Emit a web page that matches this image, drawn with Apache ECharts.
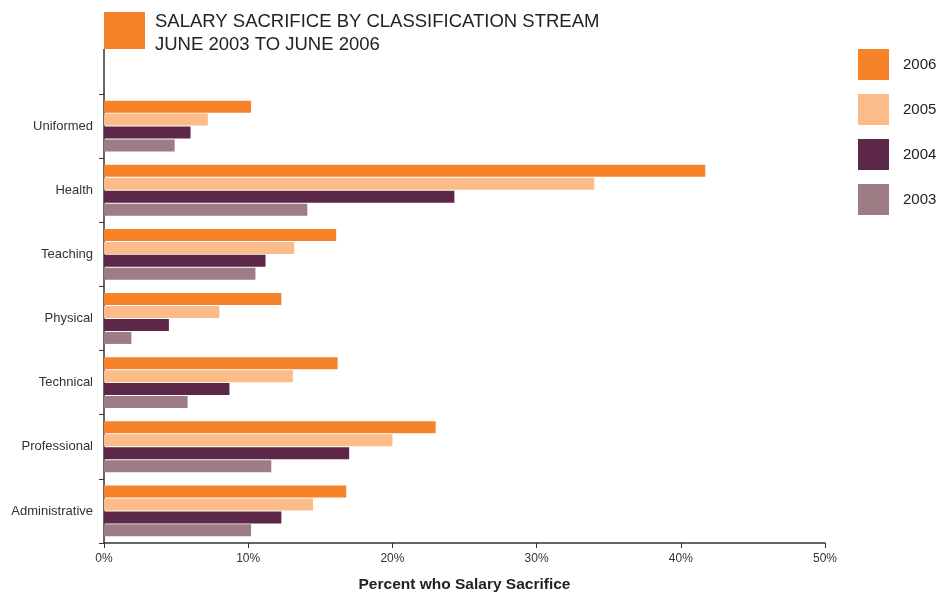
<!DOCTYPE html>
<html>
<head>
<meta charset="utf-8">
<script src="https://cdn.jsdelivr.net/npm/echarts@6/dist/echarts.min.js"></script>
<style>
  html, body { margin: 0; padding: 0; background: #fff; }
  #chart { width: 939px; height: 592px; }
</style>
</head>
<body>
<div id="chart"></div>
<script>
// Classification streams, listed bottom to top
const categories = ['Administrative', 'Professional', 'Technical', 'Physical', 'Teaching', 'Health', 'Uniformed'];

// Percent of staff who salary sacrifice, by year (same order as categories)
const values2006 = [16.8, 23.0, 16.2, 12.3, 16.1, 41.7, 10.2];
const values2005 = [14.5, 20.0, 13.1, 8.0, 13.2, 34.0, 7.2];
const values2004 = [12.3, 17.0, 8.7, 4.5, 11.2, 24.3, 6.0];
const values2003 = [10.2, 11.6, 5.8, 1.9, 10.5, 14.1, 4.9];

const xTicks = [0, 10, 20, 30, 40, 50];
const legendOrder = ['2006', '2005', '2004', '2003'];

const colors = {
  '2006': '#F6832A',
  '2005': '#FBBC8A',
  '2004': '#5D2848',
  '2003': '#9D7D83'
};

const font = 'Liberation Sans, Arial, Helvetica, sans-serif';

function barSeries(name, data) {
  return {
    name: name,
    type: 'bar',
    data: data,
    barWidth: 12,
    barGap: '8%',
    itemStyle: { color: colors[name] },
    emphasis: { disabled: true }
  };
}

const chart = echarts.init(document.getElementById('chart'), null, { renderer: 'canvas' });

chart.setOption({
  animation: false,
  backgroundColor: '#ffffff',
  grid: { left: 104, right: 114, top: 94, bottom: 49, containLabel: false, outerBoundsMode: 'none' },
  legend: {
    orient: 'vertical',
    left: 858,
    top: 49,
    padding: 0,
    itemWidth: 31,
    itemHeight: 31,
    itemGap: 14,
    icon: 'rect',
    data: legendOrder,
    selectedMode: false,
    textStyle: { fontFamily: font, fontSize: 15, color: '#222', padding: [0, 0, 0, 9] }
  },
  xAxis: {
    type: 'value',
    min: xTicks[0],
    max: xTicks[xTicks.length - 1],
    interval: 10,
    splitLine: { show: false },
    axisLine: { show: true, lineStyle: { color: '#333', width: 1.5 } },
    axisTick: { show: true, length: 5, lineStyle: { color: '#333', width: 1 } },
    axisLabel: {
      formatter: '{value}%',
      fontFamily: font,
      fontSize: 12,
      color: '#333',
      margin: 10
    },
    name: 'Percent who Salary Sacrifice',
    nameLocation: 'middle',
    nameGap: 34,
    nameTextStyle: { fontFamily: font, fontSize: 15.5, fontWeight: 'bold', color: '#222' }
  },
  yAxis: {
    type: 'category',
    data: categories,
    axisLine: { show: true, lineStyle: { color: '#333', width: 1.5 } },
    axisTick: { show: true, length: 5, lineStyle: { color: '#333', width: 1 } },
    axisLabel: { fontFamily: font, fontSize: 13, color: '#333', margin: 11 },
    splitLine: { show: false }
  },
  // Within each category the first series sits at the top
  series: [
    barSeries('2006', values2006),
    barSeries('2005', values2005),
    barSeries('2004', values2004),
    barSeries('2003', values2003)
  ],
  graphic: [
    {
      type: 'rect',
      shape: { x: 104, y: 12, width: 41, height: 37 },
      style: { fill: '#F6832A' }
    },
    {
      type: 'line',
      shape: { x1: 104, y1: 49, x2: 104, y2: 94 },
      style: { stroke: '#333', lineWidth: 1.5 }
    },
    {
      type: 'text',
      left: 155,
      top: 10,
      style: {
        text: 'SALARY SACRIFICE BY CLASSIFICATION STREAM\nJUNE 2003 TO JUNE 2006',
        fontFamily: font,
        fontSize: 18.5,
        lineHeight: 23,
        fill: '#222'
      }
    }
  ]
});
</script>
</body>
</html>
